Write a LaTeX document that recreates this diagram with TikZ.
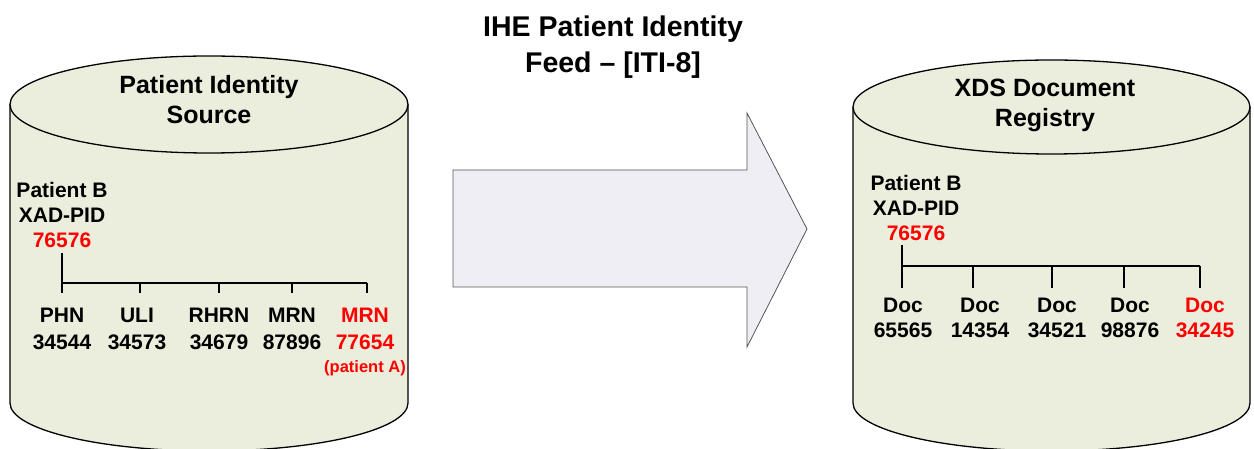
\documentclass[tikz,border=0pt]{standalone}
\usepackage{fontspec}
\setmainfont{Liberation Sans}
\definecolor{cylfill}{HTML}{EBEEDD}
\definecolor{arrfill}{HTML}{EFEEF4}
\definecolor{arrline}{HTML}{555555}
\definecolor{hired}{HTML}{FF0000}
\begin{document}
\begin{tikzpicture}[x=1bp,y=-1bp,
  cyl/.style={fill=cylfill,draw=black,line width=1.3bp},
  ttl/.style={font=\fontsize{28.5bp}{36bp}\selectfont\bfseries,align=center,anchor=base,inner sep=0pt},
  ctl/.style={font=\fontsize{25bp}{30bp}\selectfont\bfseries,align=center,anchor=base,inner sep=0pt},
  lbl/.style={font=\fontsize{21bp}{25bp}\selectfont\bfseries,align=center,anchor=base,inner sep=0pt},
  lbll/.style={font=\fontsize{21bp}{27bp}\selectfont\bfseries,align=center,anchor=base,inner sep=0pt},
  lblred/.style={lbl,text=hired},
  lbllred/.style={lbll,text=hired},
  small/.style={font=\fontsize{16.5bp}{20bp}\selectfont\bfseries,anchor=base,inner sep=0pt,text=hired},
  tree/.style={line width=2.6bp,draw=black}]
\useasboundingbox (0,0) rectangle (1254,449);
\begin{scope}
\clip (0,0) rectangle (1254,449);
% left cylinder
\path[cyl] (10,104.5) -- (10,403) arc[start angle=180,end angle=0,x radius=199,y radius=48] -- (408,104.5);
\path[cyl] (209,104.5) ellipse[x radius=199,y radius=48.5];
% right cylinder
\path[cyl] (853,107) -- (853,403) arc[start angle=180,end angle=0,x radius=198.5,y radius=48] -- (1250,107);
\path[cyl] (1051.5,107) ellipse[x radius=198.5,y radius=47];
\end{scope}
% arrow
\path[fill=arrfill,draw=arrline,line width=0.8bp] (453,170) -- (747,170) -- (747,113) -- (807,229) -- (747,347) -- (747,287) -- (453,287) -- cycle;
% title (anchor = baseline of last line)
\node[ttl] (title) at (613,73) {IHE Patient Identity\\Feed -- [ITI-8]};
% cylinder titles
\node[ctl] (srcttl) at (209,124) {Patient Identity\\Source};
\node[ctl] (regttl) at (1045,127) {XDS Document\\Registry};
% left tree
\node[lbl] (lpat) at (62,222.5) {Patient B\\XAD-PID};
\node[lblred] (lroot) at (62,247.5) {76576};
\coordinate (lr) at (62,253);
\coordinate (lb) at (62,283);
\coordinate (le) at (367,283);
\draw[tree] (lr) -- (62,293);
\draw[tree] (lb) -- (le);
\foreach \x/\n in {140/2,219/3,292/4,367/5}{
  \coordinate (lt\n) at (\x,283);
  \coordinate (lu\n) at (\x,293.5);
  \draw[tree] (lt\n) -- (lu\n);
}
\node[lbll] (phn) at (62,349.5) {PHN\\34544};
\node[lbll] (uli) at (137,349.5) {ULI\\34573};
\node[lbll] (rhrn) at (219,349.5) {RHRN\\34679};
\node[lbll] (mrn) at (292,349.5) {MRN\\87896};
\node[lbllred] (mrna) at (365,349.5) {MRN\\77654};
\node[small] (pata) at (365,373) {(patient A)};
% right tree
\node[lbl] (rpat) at (916,215.5) {Patient B\\XAD-PID};
\node[lblred] (rroot) at (916,240.5) {76576};
\coordinate (rr) at (902,245);
\coordinate (rb) at (902,266);
\coordinate (re) at (1200,266);
\draw[tree] (rr) -- (902,288);
\draw[tree] (rb) -- (re);
\foreach \x/\n in {973/2,1052/3,1124/4,1200/5}{
  \coordinate (rt\n) at (\x,266);
  \coordinate (ru\n) at (\x,288.5);
  \draw[tree] (rt\n) -- (ru\n);
}
\node[lbl] (d1) at (903,337.5) {Doc\\65565};
\node[lbl] (d2) at (980,337.5) {Doc\\14354};
\node[lbl] (d3) at (1057,337.5) {Doc\\34521};
\node[lbl] (d4) at (1130,337.5) {Doc\\98876};
\node[lblred] (d5) at (1205,337.5) {Doc\\34245};
\end{tikzpicture}
\end{document}
